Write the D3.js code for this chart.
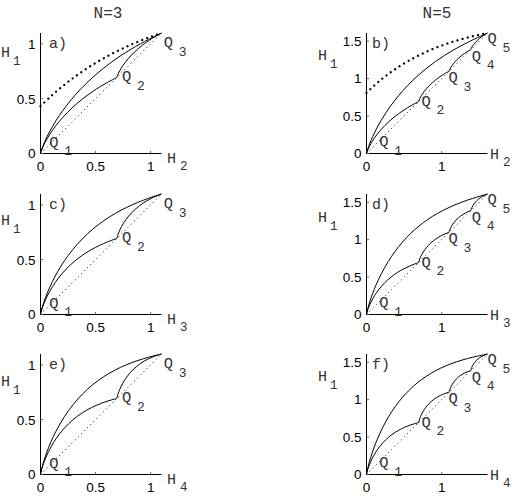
<!DOCTYPE html>
<html>
<head>
<meta charset="utf-8">
<script src="https://cdnjs.cloudflare.com/ajax/libs/d3/7.8.5/d3.min.js"></script>
<style>
  body { margin: 0; background: #fff; }
  .mono { font-family: "Courier New", "Liberation Mono", monospace; fill: #333; }
  .tick { font-family: "Liberation Sans", Arial, sans-serif; font-size: 13.5px; fill: #000; }
</style>
</head>
<body>
<div id="fig"></div>
<script>
// corner points Q_k on the diagonal (ln k)
const qPos = [0, 0.6931, 1.0986, 1.3863, 1.6094];

// lower boundary, Q1 -> Q2
const seg1H1 = [0, 0.0079, 0.0315, 0.0560, 0.0980, 0.1679, 0.2536, 0.3251, 0.4227, 0.5004, 0.5623, 0.6109, 0.6474, 0.6730, 0.6881, 0.6931];
const seg1H2 = [0, 0.0020, 0.0100, 0.0200, 0.0400, 0.0799, 0.1395, 0.1985, 0.2944, 0.3857, 0.4700, 0.5447, 0.6070, 0.6539, 0.6832, 0.6931];
const seg1H3 = [0, 0.0015, 0.0075, 0.0151, 0.0303, 0.0612, 0.1086, 0.1574, 0.2410, 0.3270, 0.4133, 0.4971, 0.5736, 0.6365, 0.6784, 0.6931];
const seg1H4 = [0, 0.0013, 0.0067, 0.0134, 0.0269, 0.0544, 0.0968, 0.1404, 0.2164, 0.2962, 0.3795, 0.4645, 0.5475, 0.6210, 0.6737, 0.6931];

// lower boundary, Q2 -> Q3
const seg2H1 = [0.6931, 0.6971, 0.7062, 0.7212, 0.7422, 0.7773, 0.8334, 0.8983, 0.9489, 1.0119, 1.0549, 1.0822, 1.0961, 1.0986];
const seg2H2 = [0.6931, 0.6941, 0.6971, 0.7031, 0.7130, 0.7327, 0.7713, 0.8270, 0.8795, 0.9578, 1.0217, 1.0678, 1.0936, 1.0986];
const seg2H3 = [0.6931, 0.6939, 0.6962, 0.7007, 0.7082, 0.7234, 0.7542, 0.8012, 0.8485, 0.9261, 0.9976, 1.0556, 1.0913, 1.0986];
const seg2H4 = [0.6931, 0.6938, 0.6958, 0.6998, 0.7065, 0.7201, 0.7476, 0.7898, 0.8332, 0.9073, 0.9804, 1.0453, 1.0891, 1.0986];

// lower boundary, Q3 -> Q4
const seg3H1 = [1.0986, 1.1024, 1.1108, 1.1246, 1.1436, 1.1747, 1.2226, 1.2753, 1.3138, 1.3565, 1.3793, 1.3863];
const seg3H2 = [1.0986, 1.0996, 1.1026, 1.1086, 1.1184, 1.1378, 1.1751, 1.2269, 1.2730, 1.3343, 1.3730, 1.3863];
const seg3H3 = [1.0986, 1.0994, 1.1016, 1.1061, 1.1137, 1.1289, 1.1595, 1.2056, 1.2505, 1.3183, 1.3675, 1.3863];
const seg3H4 = [1.0986, 1.0993, 1.1013, 1.1053, 1.1120, 1.1255, 1.1530, 1.1951, 1.2377, 1.3067, 1.3627, 1.3863];

// lower boundary, Q4 -> Q5
const seg4H1 = [1.3863, 1.3899, 1.3979, 1.4108, 1.4284, 1.4566, 1.4988, 1.5429, 1.5727, 1.6011, 1.6094];
const seg4H2 = [1.3863, 1.3873, 1.3903, 1.3962, 1.4060, 1.4250, 1.4610, 1.5090, 1.5488, 1.5939, 1.6094];
const seg4H3 = [1.3863, 1.3870, 1.3893, 1.3938, 1.4014, 1.4165, 1.4469, 1.4918, 1.5335, 1.5879, 1.6094];
const seg4H4 = [1.3863, 1.3870, 1.3890, 1.3930, 1.3997, 1.4132, 1.4407, 1.4824, 1.5235, 1.5829, 1.6094];

// upper boundary, N=3
const up3H1 = [0, 0.0086, 0.0349, 0.0629, 0.1119, 0.1957, 0.3022, 0.3944, 0.5267, 0.6390, 0.7356, 0.8188, 0.8900, 0.9503, 1.0001, 1.0397, 1.0694, 1.0889, 1.0980, 1.0986];
const up3H2 = [0, 0.0020, 0.0100, 0.0201, 0.0402, 0.0808, 0.1423, 0.2046, 0.3096, 0.4155, 0.5213, 0.6255, 0.7262, 0.8210, 0.9070, 0.9808, 1.0392, 1.0788, 1.0974, 1.0986];
const up3H3 = [0, 0.0015, 0.0075, 0.0151, 0.0303, 0.0612, 0.1088, 0.1579, 0.2431, 0.3328, 0.4269, 0.5253, 0.6270, 0.7305, 0.8326, 0.9281, 1.0098, 1.0685, 1.0967, 1.0986];
const up3H4 = [0, 0.0013, 0.0067, 0.0134, 0.0269, 0.0544, 0.0968, 0.1405, 0.2167, 0.2974, 0.3831, 0.4742, 0.5709, 0.6730, 0.7789, 0.8849, 0.9827, 1.0583, 1.0961, 1.0986];

// upper boundary, N=5
const up5H1 = [0, 0.0093, 0.0384, 0.0699, 0.1258, 0.2234, 0.3507, 0.4637, 0.6307, 0.7777, 0.9089, 1.0268, 1.1327, 1.2275, 1.3120, 1.3863, 1.4506, 1.5048, 1.5485, 1.5813, 1.6021, 1.6094];
const up5H2 = [0, 0.0020, 0.0100, 0.0201, 0.0403, 0.0812, 0.1437, 0.2076, 0.3173, 0.4308, 0.5480, 0.6685, 0.7916, 0.9163, 1.0409, 1.1632, 1.2797, 1.3863, 1.4779, 1.5488, 1.5939, 1.6094];
const up5H3 = [0, 0.0015, 0.0075, 0.0151, 0.0303, 0.0612, 0.1088, 0.1580, 0.2436, 0.3342, 0.4304, 0.5326, 0.6413, 0.7571, 0.8799, 1.0094, 1.1437, 1.2787, 1.4064, 1.5137, 1.5851, 1.6094];
const up5H4 = [0, 0.0013, 0.0067, 0.0134, 0.0269, 0.0544, 0.0968, 0.1405, 0.2167, 0.2975, 0.3835, 0.4754, 0.5739, 0.6801, 0.7948, 0.9190, 1.0533, 1.1963, 1.3429, 1.4784, 1.5758, 1.6094];

// bold dotted bound (H_2 panels only)
const bnd3X = [0, 0.1, 0.2, 0.3, 0.4, 0.5, 0.6, 0.7, 0.8, 0.9, 1.0, 1.0986];
const bnd3Y = [0.4319, 0.5271, 0.6132, 0.6911, 0.7616, 0.8254, 0.8831, 0.9354, 0.9826, 1.0254, 1.0641, 1.0986];
const bnd5X = [0, 0.1, 0.2, 0.3, 0.4, 0.5, 0.6, 0.7, 0.8, 0.9, 1.0, 1.1, 1.2, 1.3, 1.4, 1.5, 1.6, 1.6094];
const bnd5Y = [0.8094, 0.9046, 0.9907, 1.0686, 1.1391, 1.2029, 1.2606, 1.3129, 1.3601, 1.4029, 1.4416, 1.4766, 1.5082, 1.5369, 1.5628, 1.5863, 1.6075, 1.6094];

// tick labels
const xTicks3 = [0, 0.5, 1], yTicks3 = [0, 0.5, 1];
const xTicks5 = [0, 1], yTicks5 = [0, 0.5, 1, 1.5];

// where the Q_k labels sit (data units: left edge, baseline)
const qLab3 = [[0.08, 0.06], [0.74, 0.66], [1.12, 0.97]];
const qLab5 = [[0.17, 0.10], [0.73, 0.635], [1.09, 0.95], [1.40, 1.24], [1.61, 1.47]];

const lowerSegs = [
  { h1: seg1H1, h: { 2: seg1H2, 3: seg1H3, 4: seg1H4 } },
  { h1: seg2H1, h: { 2: seg2H2, 3: seg2H3, 4: seg2H4 } },
  { h1: seg3H1, h: { 2: seg3H2, 3: seg3H3, 4: seg3H4 } },
  { h1: seg4H1, h: { 2: seg4H2, 3: seg4H3, 4: seg4H4 } }
];

const cols = [
  { n: 3, lnN: qPos[2], left: 40.5, title: "N=3", titleX: 108, xTicks: xTicks3, yTicks: yTicks3,
    up: { h1: up3H1, h: { 2: up3H2, 3: up3H3, 4: up3H4 } }, bx: bnd3X, by: bnd3Y, labels: qLab3,
    letterX: 49, ylabX: 1, xlabX: 167, xlabDy: 9 },
  { n: 5, lnN: qPos[4], left: 366.5, title: "N=5", titleX: 437, xTicks: xTicks5, yTicks: yTicks5,
    up: { h1: up5H1, h: { 2: up5H2, 3: up5H3, 4: up5H4 } }, bx: bnd5X, by: bnd5Y, labels: qLab5,
    letterX: 372, ylabX: 318, xlabX: 490, xlabDy: 5 }
];
const rows = [
  { bottom: 153.5, alpha: 2, letters: ["a)", "b)"], ylabY: [57, 60] },
  { bottom: 314.5, alpha: 3, letters: ["c)", "d)"], ylabY: [225, 222] },
  { bottom: 474.5, alpha: 4, letters: ["e)", "f)"], ylabY: [386, 381] }
];
const boxW = 121, boxH = 120.5;

const svg = d3.select("#fig").append("svg").attr("width", 518).attr("height", 498);

cols.forEach(function (c) {
  svg.append("text").attr("class", "mono").attr("x", c.titleX).attr("y", 18)
    .attr("text-anchor", "middle").style("font-size", "16px").text(c.title);
});

function subText(g, x, y, main, sub, size, dx, dy) {
  g.append("text").attr("class", "mono").attr("x", x).attr("y", y)
    .style("font-size", size + "px").text(main);
  g.append("text").attr("class", "mono").attr("x", x + dx).attr("y", y + dy)
    .style("font-size", (size - 2.5) + "px").text(sub);
}

rows.forEach(function (r, ri) {
  cols.forEach(function (c, ci) {
    const g = svg.append("g");
    const x = d3.scaleLinear().domain([0, c.lnN]).range([c.left, c.left + boxW]);
    const y = d3.scaleLinear().domain([0, c.lnN]).range([r.bottom, r.bottom - boxH]);
    const line = d3.line().x(d => x(d[0])).y(d => y(d[1])).curve(d3.curveCatmullRom.alpha(0.5));

    // axes
    g.append("line").attr("x1", x(0)).attr("x2", x(0)).attr("y1", y(0)).attr("y2", y(c.lnN))
      .attr("stroke", "#000").attr("stroke-width", 1);
    g.append("line").attr("x1", x(0)).attr("x2", x(c.lnN)).attr("y1", y(0)).attr("y2", y(0))
      .attr("stroke", "#000").attr("stroke-width", 1);

    c.xTicks.forEach(function (t) {
      g.append("line").attr("x1", x(t)).attr("x2", x(t)).attr("y1", y(0)).attr("y2", y(0) - 2.5)
        .attr("stroke", "#666").attr("stroke-width", 1);
      g.append("text").attr("class", "tick").attr("x", x(t)).attr("y", y(0) + 17)
        .attr("text-anchor", "middle").text(t);
    });
    c.yTicks.forEach(function (t) {
      g.append("line").attr("x1", x(0)).attr("x2", x(0) + 2.5).attr("y1", y(t)).attr("y2", y(t))
        .attr("stroke", "#666").attr("stroke-width", 1);
      g.append("text").attr("class", "tick").attr("x", x(0) - 5).attr("y", y(t)).attr("dy", "0.36em")
        .attr("text-anchor", "end").text(t);
    });

    // diagonal H1 = Halpha
    g.append("path").attr("d", d3.line().x(d => x(d)).y(d => y(d))([0, c.lnN]))
      .attr("fill", "none").attr("stroke", "#000").attr("stroke-width", 1)
      .attr("stroke-dasharray", "1,3.4");

    // bold dotted bound in the H_2 row
    if (r.alpha === 2) {
      g.append("path").attr("d", line(c.bx.map((v, i) => [v, c.by[i]])))
        .attr("fill", "none").attr("stroke", "#000").attr("stroke-width", 2.3)
        .attr("stroke-linecap", "round").attr("stroke-dasharray", "0.01,5.3");
    }

    // upper boundary
    g.append("path").attr("d", line(c.up.h[r.alpha].map((v, i) => [v, c.up.h1[i]])))
      .attr("fill", "none").attr("stroke", "#000").attr("stroke-width", 1);

    // lower boundary, one arc per Q_k -> Q_k+1
    lowerSegs.slice(0, c.n - 1).forEach(function (s) {
      g.append("path").attr("d", line(s.h[r.alpha].map((v, i) => [v, s.h1[i]])))
        .attr("fill", "none").attr("stroke", "#000").attr("stroke-width", 1);
    });

    // labels
    c.labels.forEach(function (p, k) {
      subText(g, x(p[0]), y(p[1]), "Q", String(k + 1), 15.5, 15, 8.5);
    });
    g.append("text").attr("class", "mono").attr("x", c.letterX).attr("y", r.bottom - boxH + 14.5)
      .style("font-size", "15px").text(r.letters[ci]);
    subText(g, c.ylabX, r.ylabY[ci], "H", "1", 15, 12, 7.5);
    subText(g, c.xlabX, r.bottom + c.xlabDy, "H", String(r.alpha), 15, 13, 7);
  });
});
</script>
</body>
</html>
